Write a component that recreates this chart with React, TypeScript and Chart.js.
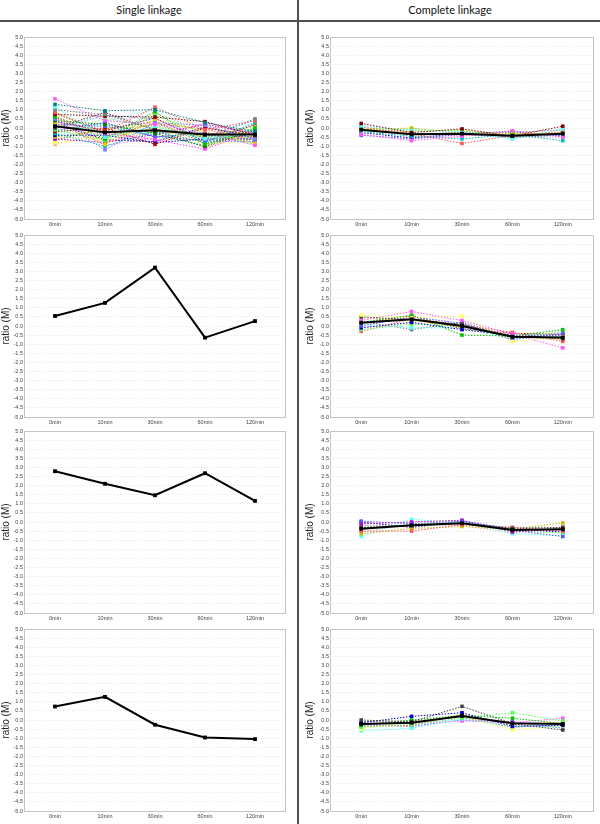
import React, { useEffect, useRef } from 'react';
import { Chart, registerables } from 'chart.js';

Chart.register(...registerables);

// ---------- data ----------
const CATEGORIES = ['0min', '10min', '30min', '60min', '120min'];
const COLUMN_TITLES = ['Single linkage', 'Complete linkage'];
const Y_AXIS_TITLE = 'ratio (M)';
const Y_MIN = -5;
const Y_MAX = 5;
const Y_STEP = 0.5;

// Single linkage, cluster 1 (many genes)
const SINGLE_1_SERIES = [
  [1.6, 0.4, 0.2, -0.3, -0.95],
  [1.3, 0.95, 1.0, 0.3, -0.2],
  [1.15, -0.5, 0.1, -0.6, -0.3],
  [1.0, 0.75, -0.1, -0.5, 0.5],
  [0.85, -0.2, 1.15, -0.1, 0.4],
  [0.75, 0.65, 0.6, 0.35, -0.4],
  [0.6, -0.6, 0.9, -0.9, 0.0],
  [0.5, -1.2, 0.3, 0.15, -0.6],
  [0.4, 0.2, -0.3, -1.0, -0.1],
  [0.3, -0.9, 0.45, -0.2, -0.85],
  [0.2, 0.1, -0.45, -0.7, -0.75],
  [0.1, -0.3, -0.65, -1.15, -0.2],
  [0.0, 0.85, -0.1, -0.4, -0.5],
  [-0.1, -0.7, 0.7, -0.3, -0.9],
  [-0.2, 0.0, -0.9, 0.0, -0.4],
  [-0.3, -1.0, -0.2, -0.8, 0.3],
  [-0.4, -0.4, -0.8, -0.6, -0.6],
  [-0.5, -0.1, 0.15, -0.5, 0.1],
  [-0.6, -0.8, -0.35, 0.2, -0.3],
  [-0.8, -0.55, 0.0, -0.9, -0.7],
  [-0.9, -0.3, -0.6, -0.65, -0.5],
  [0.9, -0.4, -0.25, -0.45, -0.65],
  [0.35, -0.15, 0.55, -0.75, 0.2],
  [-0.15, 0.3, -0.5, -0.25, -0.8],
  [0.55, -0.75, -0.2, -0.35, -0.15],
  [-0.35, 0.5, 0.05, -0.55, -0.45],
  [0.25, -0.65, -0.75, 0.05, -0.55],
  [-0.65, -0.05, 0.35, -0.85, -0.25],
  [0.15, -0.85, 0.8, -0.15, -0.35],
  [-0.25, 0.15, -0.4, -0.95, 0.0],
  [1.05, 0.6, -0.05, -0.35, -0.05],
  [0.65, -0.45, 0.25, -0.05, -0.7],
  [-0.45, 0.35, 1.05, -0.7, 0.15],
  [0.45, -0.95, -0.55, 0.3, -0.3],
  [-0.05, 0.7, 0.5, -0.6, 0.45],
  [0.8, -0.25, -0.15, -1.05, -0.15],
];
const SINGLE_1_MEAN = [0.09, -0.24, -0.13, -0.36, -0.36];

// Complete linkage, cluster 1
const COMPLETE_1_SERIES = [
  [0.25, -0.25, -0.05, -0.45, 0.1],
  [0.1, -0.15, -0.2, -0.6, -0.05],
  [-0.1, 0.0, -0.3, -0.3, -0.3],
  [-0.35, -0.7, -0.45, -0.15, -0.5],
  [-0.4, -0.6, -0.35, -0.5, -0.4],
  [0.05, -0.3, -0.85, -0.4, -0.2],
  [-0.2, -0.45, -0.6, -0.35, -0.7],
  [0.0, -0.1, -0.15, -0.55, -0.35],
  [-0.15, -0.35, -0.25, -0.25, -0.1],
  [0.15, -0.5, -0.4, -0.45, -0.55],
  [-0.05, -0.2, -0.1, -0.5, -0.25],
  [-0.25, -0.55, -0.3, -0.2, -0.45],
];
const COMPLETE_1_MEAN = [-0.09, -0.35, -0.31, -0.42, -0.31];

// Single linkage, cluster 2 (one gene)
const SINGLE_2_VALUES = [0.55, 1.27, 3.21, -0.64, 0.27];

// Complete linkage, cluster 2
const COMPLETE_2_SERIES = [
  [0.6, 0.45, 0.55, -0.85, -0.6],
  [0.5, 0.35, 0.1, -0.6, -0.7],
  [0.3, 0.8, 0.3, -0.45, -1.2],
  [0.2, 0.6, -0.5, -0.55, -0.2],
  [0.0, 0.5, 0.15, -0.75, -0.4],
  [-0.1, 0.2, -0.2, -0.5, -0.5],
  [-0.2, 0.1, 0.0, -0.65, -0.3],
  [-0.3, 0.4, 0.05, -0.35, -0.85],
  [0.1, -0.1, -0.1, -0.7, -0.55],
  [0.25, -0.2, 0.2, -0.6, -0.65],
  [0.45, 0.3, -0.05, -0.5, -0.75],
  [0.15, 0.55, -0.15, -0.4, -0.45],
];
const COMPLETE_2_MEAN = [0.18, 0.37, 0.0, -0.59, -0.63];

// Single linkage, cluster 3 (one gene)
const SINGLE_3_VALUES = [2.79, 2.1, 1.47, 2.68, 1.16];

// Complete linkage, cluster 3
const COMPLETE_3_SERIES = [
  [0.05, -0.1, 0.05, -0.45, -0.8],
  [-0.1, 0.0, 0.1, -0.55, -0.4],
  [-0.3, -0.2, -0.05, -0.35, -0.3],
  [-0.5, -0.5, -0.15, -0.3, -0.5],
  [-0.65, -0.35, -0.25, -0.4, -0.05],
  [-0.8, 0.15, -0.05, -0.65, -0.75],
  [-0.4, -0.15, 0.0, -0.5, -0.6],
  [-0.2, -0.25, -0.1, -0.3, -0.35],
  [-0.55, -0.1, -0.2, -0.6, -0.25],
  [0.0, -0.3, 0.05, -0.4, -0.55],
];
const COMPLETE_3_MEAN = [-0.37, -0.18, -0.07, -0.44, -0.4];

// Single linkage, cluster 4 (one gene)
const SINGLE_4_VALUES = [0.74, 1.27, -0.26, -0.96, -1.05];

// Complete linkage, cluster 4
const COMPLETE_4_SERIES = [
  [0.0, -0.1, 0.75, -0.2, -0.55],
  [-0.15, 0.2, 0.4, -0.35, -0.3],
  [-0.3, 0.0, 0.25, 0.1, -0.2],
  [-0.4, -0.25, 0.1, 0.4, -0.05],
  [-0.5, -0.1, 0.2, -0.55, -0.35],
  [-0.6, -0.45, 0.05, -0.3, -0.4],
  [-0.2, -0.2, -0.05, -0.15, 0.1],
  [-0.35, -0.3, 0.3, -0.25, -0.15],
  [-0.1, -0.05, 0.15, -0.4, -0.25],
  [-0.25, -0.35, 0.0, -0.1, -0.45],
];
const COMPLETE_4_MEAN = [-0.22, -0.15, 0.22, -0.18, -0.22];

// ---------- styles ----------
const COLORS_A = [
  '#ff55ff', '#008080', '#55ffff', '#808080', '#ff5555', '#800000', '#00c000', '#8080ff',
  '#008000', '#ffc800', '#5555ff', '#ff40ff', '#404040', '#40ff40', '#c00000', '#00c0c0',
  '#0000c0', '#c0c000', '#c000c0', '#ffff55', '#ffaf80', '#55ff55', '#800080', '#4040ff',
  '#ff8080', '#80ff80', '#000080', '#808000', '#ffafaf', '#40ffff', '#c0c0c0', '#ff4040',
  '#80ffff', '#ff80ff', '#55aaff', '#aa5500',
];
const COLORS_B = ['#800000', '#55ffff', '#c0c000', '#ff55ff', '#5555ff', '#ff5555', '#00c0c0', '#55ff55', '#808080', '#ffafaf', '#ffc800', '#0000c0'];
const COLORS_D = ['#ffff55', '#404040', '#ff55ff', '#00c000', '#5555ff', '#0000c0', '#55ff55', '#ff5555', '#55ffff', '#808080', '#ffc800', '#c00000'];
const COLORS_F = ['#5555ff', '#c000c0', '#404040', '#ff5555', '#c0c000', '#55ffff', '#55ff55', '#808080', '#ffafaf', '#0000c0'];
const COLORS_H = ['#404040', '#0000c0', '#00c000', '#55ff55', '#ffff55', '#55ffff', '#ff55ff', '#ff5555', '#808080', '#5555ff'];

const FONT_FAMILY = '"Liberation Sans", Arial, sans-serif';

const framePlugin = {
  id: 'frame',
  beforeDatasetsDraw(chart: any) {
    const { ctx, chartArea: a } = chart;
    ctx.save();
    ctx.strokeStyle = '#c4c4c4';
    ctx.lineWidth = 1;
    ctx.strokeRect(Math.round(a.left) + 0.5, Math.round(a.top) + 0.5, Math.round(a.right - a.left) - 1, Math.round(a.bottom - a.top));
    ctx.restore();
  },
};

const CANVAS_H = 199;

type PanelProps = {
  series: number[][];
  colors: string[];
  mean: number[];
  left: number;
  top: number;
  width: number;
  yWidth: number;
  padRight: number;
};

function Panel({ series, colors, mean, left, top, width, yWidth, padRight }: PanelProps) {
  const ref = useRef<HTMLCanvasElement>(null);
  useEffect(() => {
    if (!ref.current) return;
    const toPts = (arr: number[]) => arr.map((y, i) => ({ x: i, y }));
    const datasets: any[] = [
      {
        data: toPts(mean),
        borderColor: '#000',
        backgroundColor: '#000',
        borderWidth: 2,
        pointStyle: 'rect',
        pointRadius: 2.7,
        pointBorderWidth: 0,
        pointBackgroundColor: '#000',
      },
    ];
    series.forEach((s, k) => {
      const c = colors[k % colors.length];
      datasets.push({
        data: toPts(s),
        borderColor: c,
        backgroundColor: c,
        borderWidth: 1,
        borderDash: [1.5, 1.5],
        pointStyle: 'rect',
        pointRadius: 2.5,
        pointBorderWidth: 0,
        pointBackgroundColor: c,
      });
    });
    const tickFont = { size: 5.5, family: FONT_FAMILY };
    const chart = new Chart(ref.current, {
      type: 'line',
      data: { datasets },
      options: {
        animation: false,
        responsive: false,
        events: [],
        layout: { padding: { top: 5, right: padRight, left: 0, bottom: 0 } },
        plugins: { legend: { display: false }, tooltip: { enabled: false } },
        scales: {
          x: {
            type: 'linear',
            bounds: 'data',
            min: -0.62,
            max: CATEGORIES.length - 1 + 0.62,
            afterBuildTicks: (s: any) => {
              s.ticks = CATEGORIES.map((_, i) => ({ value: i }));
            },
            afterFit: (s: any) => {
              s.height = 12;
            },
            grid: { display: false, drawTicks: false },
            border: { display: false },
            ticks: {
              autoSkip: false,
              maxRotation: 0,
              padding: 2.5,
              color: '#444',
              font: tickFont,
              callback: (v: any) => CATEGORIES[v] ?? '',
            },
          },
          y: {
            min: Y_MIN,
            max: Y_MAX,
            afterFit: (s: any) => {
              s.width = yWidth;
            },
            grid: { color: '#e2e2e2', drawTicks: false, lineWidth: 1 },
            border: { display: false, dash: [1, 2] },
            ticks: {
              stepSize: Y_STEP,
              autoSkip: false,
              padding: 1,
              color: '#444',
              font: tickFont,
              callback: (v: any) => Number(v).toFixed(1),
            },
            title: {
              display: true,
              text: Y_AXIS_TITLE,
              color: '#222',
              padding: 0,
              font: { size: 10, family: FONT_FAMILY },
            },
          },
        },
      } as any,
      plugins: [framePlugin],
    });
    return () => chart.destroy();
  }, []);
  return (
    <canvas
      ref={ref}
      width={width}
      height={CANVAS_H}
      style={{ position: 'absolute', left, top, width, height: CANVAS_H }}
    />
  );
}

const ROW_TOPS = [32, 230, 426, 624];

export default function App() {
  const leftCol = { left: 0, width: 290, yWidth: 24, padRight: 2 };
  const rightCol = { left: 304, width: 294, yWidth: 26, padRight: 3 };
  const rows = [
    { single: { series: SINGLE_1_SERIES, colors: COLORS_A, mean: SINGLE_1_MEAN }, complete: { series: COMPLETE_1_SERIES, colors: COLORS_B, mean: COMPLETE_1_MEAN } },
    { single: { series: [], colors: COLORS_A, mean: SINGLE_2_VALUES }, complete: { series: COMPLETE_2_SERIES, colors: COLORS_D, mean: COMPLETE_2_MEAN } },
    { single: { series: [], colors: COLORS_A, mean: SINGLE_3_VALUES }, complete: { series: COMPLETE_3_SERIES, colors: COLORS_F, mean: COMPLETE_3_MEAN } },
    { single: { series: [], colors: COLORS_A, mean: SINGLE_4_VALUES }, complete: { series: COMPLETE_4_SERIES, colors: COLORS_H, mean: COMPLETE_4_MEAN } },
  ];
  return (
    <div style={{ position: 'absolute', left: 0, top: 0, width: 600, height: 824, background: '#fff', overflow: 'hidden' }}>
      <div style={{ position: 'absolute', left: 0, top: 3, width: 298, textAlign: 'center', font: '11px Lato, "Liberation Sans", sans-serif', lineHeight: '13px', color: '#111' }}>
        {COLUMN_TITLES[0]}
      </div>
      <div style={{ position: 'absolute', left: 300, top: 3, width: 300, textAlign: 'center', font: '11px Lato, "Liberation Sans", sans-serif', lineHeight: '13px', color: '#111' }}>
        {COLUMN_TITLES[1]}
      </div>
      <div style={{ position: 'absolute', left: 0, top: 20, width: 600, height: 2, background: '#505050' }} />
      <div style={{ position: 'absolute', left: 297, top: 0, width: 2, height: 824, background: '#505050' }} />
      {rows.map((r, i) => (
        <React.Fragment key={i}>
          <Panel {...r.single} {...leftCol} top={ROW_TOPS[i]} />
          <Panel {...r.complete} {...rightCol} top={ROW_TOPS[i]} />
        </React.Fragment>
      ))}
    </div>
  );
}
